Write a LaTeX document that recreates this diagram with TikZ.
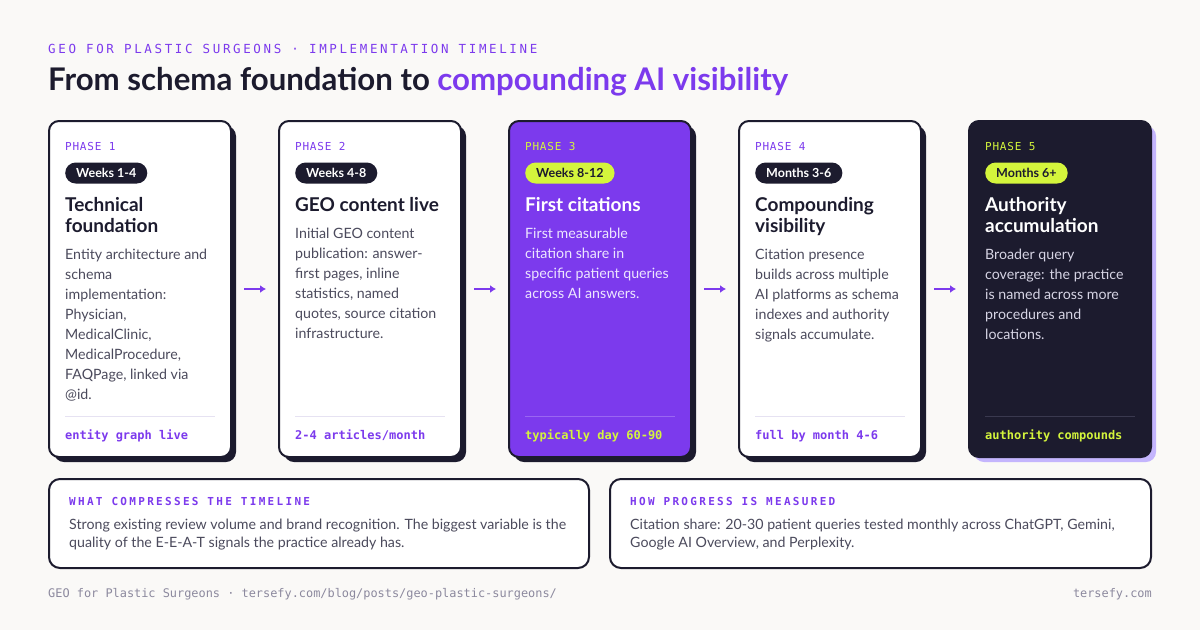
\documentclass[tikz,border=0pt]{standalone}
\usepackage{fontspec}
\setmainfont{Lato}
\setmonofont{DejaVu Sans Mono}
\newfontfamily\kickerfont[LetterSpace=21]{DejaVu Sans Mono}
\newfontfamily\phasefont[LetterSpace=7]{DejaVu Sans Mono}
\usetikzlibrary{positioning,arrows.meta,shadows}

\definecolor{ink}{HTML}{1C1B2E}
\definecolor{accent}{HTML}{7C3AED}
\definecolor{zest}{HTML}{D4F53C}
\definecolor{paper}{HTML}{FAF9F7}
\definecolor{lilac}{HTML}{C4B5FD}
\definecolor{slate}{HTML}{4B4A5C}
\definecolor{mutedgray}{HTML}{8C899E}

\colorlet{cardL}{white}      \colorlet{cardP}{accent}     \colorlet{cardD}{ink}
\colorlet{shadeL}{ink}       \colorlet{shadeP}{ink}       \colorlet{shadeD}{lilac}
\colorlet{phaseL}{accent}    \colorlet{phaseP}{zest}      \colorlet{phaseD}{zest}
\colorlet{pillL}{ink}        \colorlet{pillP}{zest}       \colorlet{pillD}{zest}
\colorlet{pilltextL}{white}  \colorlet{pilltextP}{ink}    \colorlet{pilltextD}{ink}
\colorlet{headL}{ink}        \colorlet{headP}{white}      \colorlet{headD}{white}
\definecolor{bodyL}{HTML}{4B4A5C}
\definecolor{bodyP}{HTML}{EDE6FF}
\definecolor{bodyD}{HTML}{D6D4E4}
\definecolor{ruleL}{HTML}{E6E2F2}
\definecolor{ruleP}{HTML}{9A66F2}
\definecolor{ruleD}{HTML}{3A394F}
\colorlet{tagL}{accent}      \colorlet{tagP}{zest}        \colorlet{tagD}{zest}

\tikzset{
  card/.style={draw=ink,line width=2pt,rounded corners=10pt,minimum width=182pt,
    minimum height=336pt,anchor=north west,outer sep=0pt,inner sep=0pt},
  phase/.style={font=\phasefont\fontsize{11}{13}\selectfont,inner sep=0pt},
  pill/.style={rounded corners=10.5pt,minimum height=21pt,inner xsep=11pt,inner ysep=0pt,
    font=\bfseries\fontsize{12.5}{14}\selectfont},
  heading/.style={font=\bfseries\fontsize{19}{19.5}\selectfont,align=left,inner sep=0pt},
  blurb/.style={font=\fontsize{14.2}{20}\selectfont,align=left,inner sep=0pt},
  divider/.style={line width=1pt},
  tag/.style={font=\ttfamily\bfseries\fontsize{12}{14}\selectfont,inner sep=0pt},
  flow/.style={accent,line width=2pt,shorten <=13pt,shorten >=13pt,-{Latex[length=6pt,width=8pt]}},
  note/.style={draw=ink,fill=white,line width=2pt,rounded corners=11pt,minimum width=540pt,
    minimum height=89pt,anchor=north west,outer sep=0pt,inner sep=0pt},
  notehead/.style={font=\kickerfont\bfseries\fontsize{11}{13}\selectfont,text=accent,inner sep=0pt},
  notetext/.style={font=\fontsize{14.2}{18.5}\selectfont,text=slate,align=left,inner sep=0pt},
  kicker/.style={font=\kickerfont\fontsize{12.5}{14}\selectfont,text=accent,inner sep=0pt},
  headline/.style={font=\bfseries\fontsize{31.2}{34}\selectfont,text=ink,inner sep=0pt},
  source/.style={font=\ttfamily\fontsize{11.9}{14}\selectfont,text=mutedgray,inner sep=0pt}
}

\begin{document}
\begin{tikzpicture}[x=1pt,y=1pt]
  \fill[paper] (0,0) rectangle (1200,-630);
  \useasboundingbox (0,0) rectangle (1200,-630);

  \node[kicker,anchor=base west] (kicker) at (48,-53)
    {GEO FOR PLASTIC SURGEONS · IMPLEMENTATION TIMELINE};
  \node[headline,anchor=base west] (headline) at (48,-90)
    {From schema foundation to \textcolor{accent}{compounding AI visibility}};

  \foreach \i/\t/\wk/\ttl/\txt/\ft [evaluate=\i as \x using {49+230*(\i-1)}] in
    { 1/L/{Weeks 1-4}/{Technical\\foundation}/{Entity architecture and\\schema\\implementation:\\Physician,\\MedicalClinic,\\MedicalProcedure,\\FAQPage, linked via\\@id.}/{entity graph live},
      2/L/{Weeks 4-8}/{GEO content live}/{Initial GEO content\\publication: answer-\\first pages, inline\\statistics, named\\quotes, source citation\\infrastructure.}/{2-4 articles/month},
      3/P/{Weeks 8-12}/{First citations}/{First measurable\\citation share in\\specific patient queries\\across AI answers.}/{typically day 60-90},
      4/L/{Months 3-6}/{Compounding\\visibility}/{Citation presence\\builds across multiple\\AI platforms as schema\\indexes and authority\\signals accumulate.}/{full by month 4-6},
      5/D/{Months 6+}/{Authority\\accumulation}/{Broader query\\coverage: the practice\\is named across more\\procedures and\\locations.}/{authority compounds}
    }
  {
    \node[card,fill=card\t,drop shadow={shadow xshift=5pt,shadow yshift=-5pt,fill=shade\t,opacity=1}]
      (card\i) at (\x,-121) {};
    \node[phase,text=phase\t,anchor=base west] (phase\i) at ([shift={(16,-29)}]card\i.north west) {PHASE \i};
    \node[pill,fill=pill\t,text=pilltext\t,anchor=west] (pill\i) at ([shift={(16,-52)}]card\i.north west) {\wk};
    \node[heading,text=head\t,anchor=north west] (title\i) at ([shift={(16,-76)}]card\i.north west) {\strut\ttl\strut};
    \node[blurb,text=body\t,below right=6.5pt and 0pt of title\i.south west] (body\i) {\strut\txt\strut};
    \draw[divider,draw=rule\t] ([shift={(16,-295)}]card\i.north west) -- ++(150,0);
    \node[tag,text=tag\t,anchor=base west] (foot\i) at ([shift={(16,-318)}]card\i.north west) {\ft};
  }

  \foreach \a/\b in {1/2,2/3,3/4,4/5}
    \draw[flow] (card\a) -- (card\b);

  \node[note] (note1) at (49,-479) {};
  \node[note,minimum width=541pt] (note2) at (610,-479) {};
  \node[notehead,anchor=base west] (head1) at ([shift={(20,-26)}]note1.north west) {WHAT COMPRESSES THE TIMELINE};
  \node[notehead,anchor=base west] (head2) at ([shift={(20,-26)}]note2.north west) {HOW PROGRESS IS MEASURED};
  \node[notetext,anchor=north west] (text1) at ([shift={(20,-37)}]note1.north west)
    {\strut Strong existing review volume and brand recognition. The biggest variable is the\\quality of the E-E-A-T signals the practice already has.\strut};
  \node[notetext,anchor=north west] (text2) at ([shift={(20,-37)}]note2.north west)
    {\strut Citation share: 20-30 patient queries tested monthly across ChatGPT, Gemini,\\Google AI Overview, and Perplexity.\strut};

  \node[source,anchor=base west] (sourceline) at (48,-597)
    {GEO for Plastic Surgeons · tersefy.com/blog/posts/geo-plastic-surgeons/};
  \node[source,anchor=base east] (site) at (1152,-597) {tersefy.com};
\end{tikzpicture}
\end{document}
